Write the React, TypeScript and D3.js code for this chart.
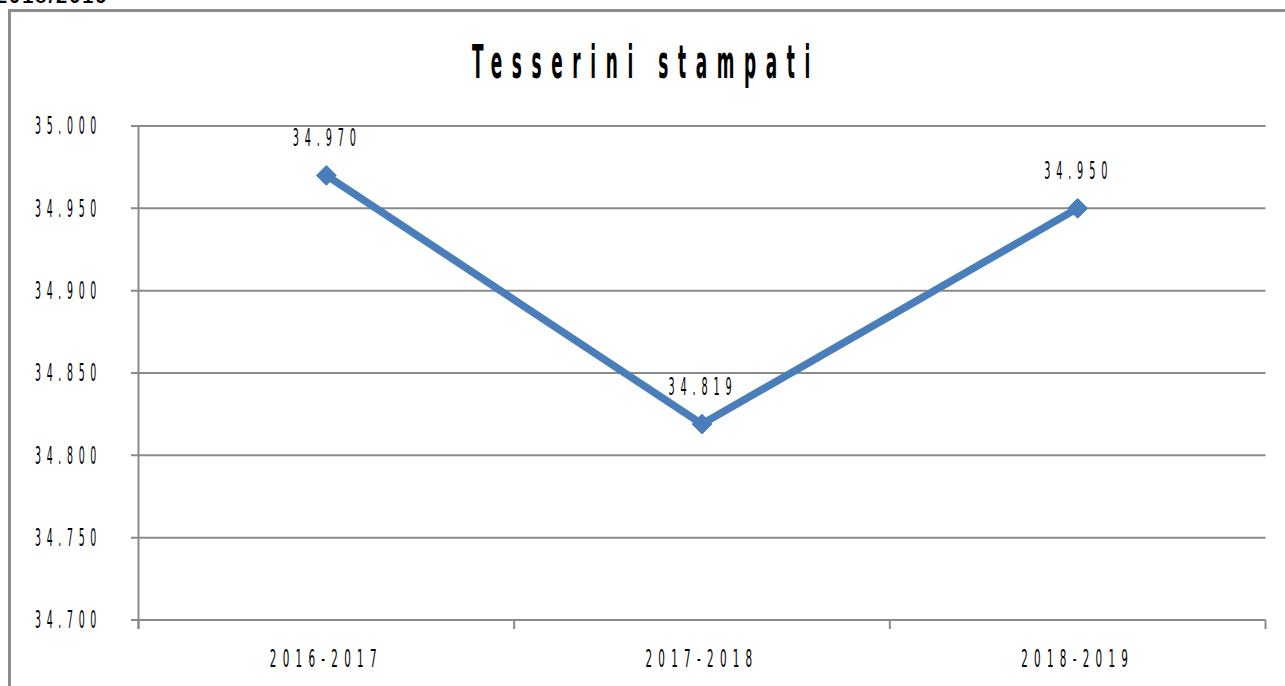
import React from "react";
import * as d3 from "d3";

const categories = ["2016-2017", "2017-2018", "2018-2019"];
const values = [34970, 34819, 34950];
const yTicks = [34700, 34750, 34800, 34850, 34900, 34950, 35000];
const title = "Tesserini stampati";
const topFragment = "2018/2019";

const W = 1285;
const H = 686;
const FONT = "'Liberation Sans Narrow', 'DejaVu Sans Condensed', 'Liberation Sans', Arial, sans-serif";

const locale = d3.formatLocale({ decimal: ",", thousands: ".", grouping: [3], currency: ["€", ""] });
const fmt = locale.format(",d");

function SpacedText(props: {
  x: number; y: number; text: string; width: number; anchor?: string;
  size: number; spacing: number; weight?: string; dy?: string;
}) {
  const { x, y, text, width, anchor = "middle", size, spacing, weight = "normal", dy = "0.35em" } = props;
  return (
    <text
      x={x}
      y={y}
      dy={dy}
      textAnchor={anchor}
      fontFamily={FONT}
      fontSize={size}
      fontWeight={weight}
      letterSpacing={spacing}
      textLength={width}
      lengthAdjust="spacingAndGlyphs"
      fill="#000"
    >
      {text}
    </text>
  );
}

export default function App() {
  const plotLeft = 138.5;
  const plotRight = 1265.5;
  const y = d3.scaleLinear().domain([34700, 35000]).range([620, 126]);
  const x = d3.scaleBand().domain(categories).range([plotLeft, plotRight]).padding(0);
  const cx = (c: string) => (x(c) as number) + x.bandwidth() / 2;

  const pts: [number, number][] = categories.map((c, i) => [cx(c), y(values[i])]);
  const line = d3.line<[number, number]>().x((d) => d[0]).y((d) => d[1]);
  const diamond = d3.symbol().type(d3.symbolDiamond2 ?? d3.symbolDiamond).size(250)();

  const grid = "#8a8a8a";
  const xTickPositions = [plotLeft, ...categories.map((c) => (x(c) as number) + x.bandwidth())];

  return (
    <svg
      width={W}
      height={H}
      style={{ position: "absolute", left: 0, top: 0, display: "block", background: "#fff" }}
    >
      <rect x={0} y={0} width={W} height={H} fill="#fff" />
      {/* cut-off text fragment at the top, as in the reference */}
      <text x={-4} y={3} fontFamily="'Liberation Sans', Arial, sans-serif" fontSize={20} fontWeight="bold" fill="#000" letterSpacing={2}>
        {topFragment}
      </text>
      {/* outer frame */}
      <path d={`M9.5,${H} V10.5 H${W}`} fill="none" stroke="#8c8c8c" strokeWidth={3} />

      {/* title */}
      <SpacedText x={646} y={78} dy="0" text={title} width={348} size={47} spacing={24} weight="bold" />

      {/* gridlines */}
      {yTicks.map((t) => (
        <line key={t} x1={131} x2={plotRight} y1={y(t)} y2={y(t)} stroke={grid} strokeWidth={2} />
      ))}
      {/* y axis */}
      <line x1={plotLeft} x2={plotLeft} y1={y(35000)} y2={629} stroke={grid} strokeWidth={2} />
      {/* x ticks */}
      {xTickPositions.map((p, i) => (
        <line key={i} x1={p} x2={p} y1={y(34700)} y2={629} stroke={grid} strokeWidth={2} />
      ))}

      {/* y labels */}
      {yTicks.map((t) => (
        <SpacedText key={t} x={102} y={y(t)} anchor="end" text={fmt(t)} width={67} size={24} spacing={13} />
      ))}

      {/* x labels */}
      {categories.map((c) => (
        <SpacedText key={c} x={cx(c)} y={659} text={c} width={113} size={24} spacing={13} />
      ))}

      {/* line */}
      <path d={line(pts) ?? ""} fill="none" stroke="#4a7ebb" strokeWidth={7.5} strokeLinejoin="round" />
      {pts.map((p, i) => (
        <path key={i} d={diamond ?? ""} transform={`translate(${p[0]},${p[1]})`} fill="#4a7ebb" stroke="#4a7ebb" strokeWidth={1} strokeLinejoin="round" />
      ))}

      {/* data labels */}
      {pts.map((p, i) => (
        <SpacedText key={i} x={p[0] + 1} y={p[1] - 37.5} text={fmt(values[i])} width={69} size={24} spacing={13} />
      ))}
    </svg>
  );
}
